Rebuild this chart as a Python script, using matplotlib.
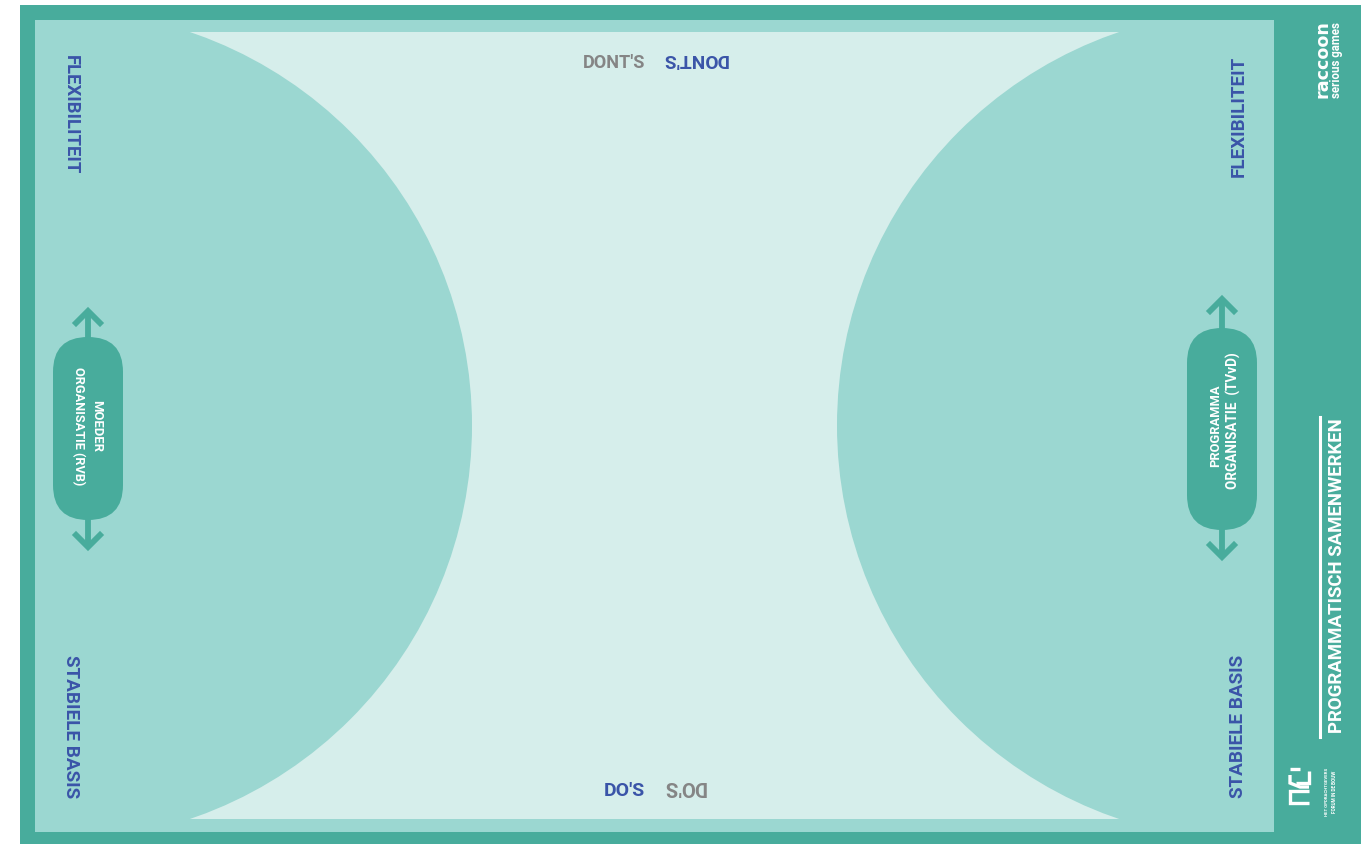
import matplotlib
matplotlib.use("Agg")
import matplotlib.pyplot as plt
from matplotlib.patches import Rectangle, Circle, FancyBboxPatch

# kleuren
TEAL = "#48ac9c"
MID = "#9bd7d1"
PALE = "#d6eeeb"
BLUE = "#3a54a8"
GREY = "#858585"

# teksten
side_labels = ["FLEXIBILITEIT", "STABIELE BASIS"]
top_label = "DONT'S"
bottom_label = "DO'S"
left_pill = ["MOEDER", "ORGANISATIE (RVB)"]
right_pill = ["PROGRAMMA", "ORGANISATIE  (TVvD)"]
title = "PROGRAMMATISCH SAMENWERKEN"
brand = ["raccoon", "serious games"]
ofg_text = ["HET OPDRACHTGEVERS", "FORUM IN DE BOUW"]

plt.rcParams['font.family'] = ["Roboto", "DejaVu Sans"]

W, H = 1361, 844
fig = plt.figure(figsize=(W / 100, H / 100), dpi=100)
ax = fig.add_axes([0, 0, 1, 1])
ax.set_xlim(0, W)
ax.set_ylim(H, 0)
ax.set_aspect("equal")
ax.axis("off")
rend = fig.canvas.get_renderer()


def txt(x, y, s, length, rot=0, color=BLUE, ha="center", va="center", **kw):
    # tekst plaatsen en grootte zo schalen dat de lengte klopt
    t = ax.text(x, y, s, rotation=rot, color=color, fontsize=12, fontweight="bold",
                ha=ha, va=va, **kw)
    for _ in range(3):
        bb = t.get_window_extent(rend)
        cur = bb.width if rot in (0, 180) else bb.height
        t.set_fontsize(t.get_fontsize() * length / cur)
    return t


# rand + speelveld
ax.add_patch(Rectangle((20, 5), W - 20, 839, color=TEAL, lw=0))
inner = Rectangle((35, 20), 1239, 812, color=MID, lw=0)
ax.add_patch(inner)
ax.add_patch(Rectangle((35, 32), 1239, 787, color=PALE, lw=0))

# twee grote cirkels
r = 415.5
for cx in [56.5, 1252.5]:
    c = Circle((cx, 425.5), r, color=MID, lw=0)
    ax.add_patch(c)
    c.set_clip_path(inner)

# zijteksten
txt(70.5, 55, side_labels[0], 120, rot=-90, va="top")
txt(70.5, 798, side_labels[1], 143, rot=-90, va="bottom")
txt(1238.5, 177, side_labels[0], 121, rot=90, va="bottom")
txt(1238.5, 798, side_labels[1], 143, rot=90, va="bottom")

# DO'S / DONT'S
txt(645, 63, top_label, 62, color=GREY, ha="right")
txt(662, 59, top_label, 66, rot=180, ha="left")
txt(645, 791, bottom_label, 41, ha="right")
txt(663, 786.5, bottom_label, 43, rot=180, color=GREY, ha="left")


def pill(cx, top, bottom, tip_top, tip_bot):
    ax.add_patch(FancyBboxPatch((cx - 35, top), 70, bottom - top,
                                boxstyle="round,pad=0,rounding_size=35", color=TEAL, lw=0))
    lw = 4.2
    ax.plot([cx, cx], [tip_top + 2, top + 5], color=TEAL, lw=lw, solid_capstyle="butt")
    ax.plot([cx, cx], [bottom - 5, tip_bot - 2], color=TEAL, lw=lw, solid_capstyle="butt")
    ax.plot([cx - 12, cx, cx + 12], [tip_top + 14, tip_top + 2, tip_top + 14], color=TEAL, lw=lw,
            solid_joinstyle="miter")
    ax.plot([cx - 12, cx, cx + 12], [tip_bot - 14, tip_bot - 2, tip_bot - 14], color=TEAL, lw=lw,
            solid_joinstyle="miter")


pill(88, 337, 520, 309, 549)
pill(1222, 328, 530, 297, 559)

txt(96.5, 426, left_pill[0], 52, rot=-90, color="white")
txt(78.5, 426, left_pill[1], 118, rot=-90, color="white")
txt(1216, 426, right_pill[0], 82, rot=90, color="white")
txt(1233.5, 421, right_pill[1], 137, rot=90, color="white")

# rechterstrook
ax.plot([1320, 1320], [417, 737], color="white", lw=2.2)
txt(1337.5, 733, title, 316, rot=90, color="white", va="bottom")
txt(1323, 98, brand[0], 78, rot=90, color="white", va="bottom", family="DejaVu Sans")
txt(1337, 98, brand[1], 76, rot=90, color="white", va="bottom")

# OFG beeldmerk (vereenvoudigd)
lk = dict(color="white", lw=2.4, solid_capstyle="butt", solid_joinstyle="miter")
ax.plot([1309, 1290, 1290, 1309], [803, 803, 791, 791], **lk)
ax.plot([1290, 1290, 1300, 1309], [775, 783, 787, 787], **lk)
ax.plot([1309, 1309, 1296], [771, 783, 783], **lk)
ax.plot([1290, 1300], [769, 769], **lk)
txt(1327.5, 816, ofg_text[0], 48, rot=90, color="white", va="bottom")
txt(1334.5, 813, ofg_text[1], 42, rot=90, color="white", va="bottom")

fig.savefig("out.png", dpi=100)
